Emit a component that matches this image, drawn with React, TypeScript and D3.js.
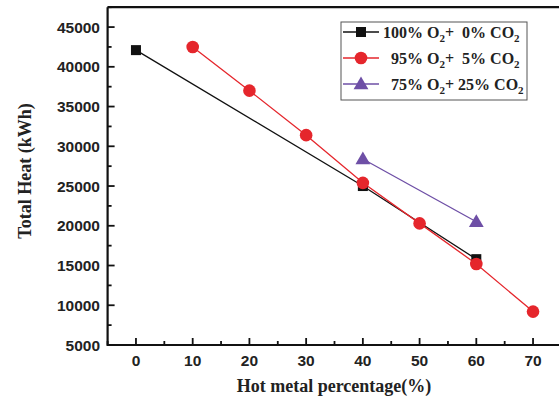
import React from 'react';
import * as d3 from 'd3';

// hot metal percentage (%)
const hotMetal100 = [0, 40, 60];
const heat100 = [42100, 25000, 15800];

const hotMetal95 = [10, 20, 30, 40, 50, 60, 70];
const heat95 = [42500, 37000, 31400, 25400, 20300, 15200, 9200];

const hotMetal75 = [40, 60];
const heat75 = [28400, 20500];

const xTicks = [0, 10, 20, 30, 40, 50, 60, 70];
const yTicks = [5000, 10000, 15000, 20000, 25000, 30000, 35000, 40000, 45000];

const W = 559;
const H = 400;

const x = d3.scaleLinear().domain([-5, 75]).range([107.6, 561.4]);
const y = d3.scaleLinear().domain([5000, 47500]).range([345, 7.2]);

const NB = '\u00a0';
const series = [
  { name: ['100% O', `+${NB}${NB}0% CO`], xs: hotMetal100, ys: heat100, color: '#111111', shape: 'square' },
  { name: [`${NB}${NB}95% O`, `+${NB}${NB}5% CO`], xs: hotMetal95, ys: heat95, color: '#e5262c', shape: 'circle' },
  { name: [`${NB}${NB}75% O`, `+${NB}25% CO`], xs: hotMetal75, ys: heat75, color: '#6e4fa6', shape: 'triangle' },
];

const line = d3.line<[number, number]>().x(d => x(d[0])).y(d => y(d[1]));

function Marker({ shape, cx, cy, color }: { shape: string; cx: number; cy: number; color: string }) {
  if (shape === 'square') return <rect x={cx - 5} y={cy - 5} width={10} height={10} fill={color} />;
  if (shape === 'circle') return <circle cx={cx} cy={cy} r={6.3} fill={color} />;
  const tri = d3.symbol().type(d3.symbolTriangle).size(95)();
  return <path d={tri || ''} transform={`translate(${cx},${cy + 1})`} fill={color} />;
}

export default function App() {
  const minorX = d3.range(-5, 76, 5).filter(v => v % 10 !== 0);
  const minorY = d3.range(7500, 47501, 5000);
  const tickFont = { fontFamily: 'Liberation Sans, Arial, sans-serif', fontWeight: 'bold' as const, fontSize: 15.5, fill: '#222' };
  const serif = 'Liberation Serif, Times New Roman, serif';

  return (
    <svg width={W} height={H} style={{ position: 'absolute', left: 0, top: 0, background: '#fff' }}>
      {/* data lines */}
      {series.map(s => (
        <path key={s.color} d={line(s.xs.map((v, i) => [v, s.ys[i]] as [number, number])) || ''}
          fill="none" stroke={s.color} strokeWidth={1.3} />
      ))}
      {series.map(s => s.xs.map((v, i) => (
        <Marker key={s.color + i} shape={s.shape} cx={x(v)} cy={y(s.ys[i])} color={s.color} />
      )))}

      {/* frame */}
      <line x1={x(-5)} x2={W} y1={y(47500)} y2={y(47500)} stroke="#111" strokeWidth={2.2} />
      <line x1={x(-5)} x2={x(-5)} y1={y(47500)} y2={y(5000) + 1} stroke="#111" strokeWidth={2.2} />
      <line x1={x(-5)} x2={W} y1={y(5000)} y2={y(5000)} stroke="#111" strokeWidth={2.2} />

      {/* x ticks */}
      {xTicks.map(t => (
        <g key={'x' + t}>
          <line x1={x(t)} x2={x(t)} y1={y(5000)} y2={y(5000) - 7} stroke="#111" strokeWidth={1.8} />
          <text x={x(t)} y={366} textAnchor="middle" {...tickFont}>{t}</text>
        </g>
      ))}
      {minorX.map(t => (
        <line key={'mx' + t} x1={x(t)} x2={x(t)} y1={y(5000)} y2={y(5000) - 4} stroke="#111" strokeWidth={1.8} />
      ))}

      {/* y ticks */}
      {yTicks.map(t => (
        <g key={'y' + t}>
          <line x1={x(-5)} x2={x(-5) + 7} y1={y(t)} y2={y(t)} stroke="#111" strokeWidth={1.8} />
          <text x={100} y={y(t) + 5.5} textAnchor="end" {...tickFont}>{t}</text>
        </g>
      ))}
      {minorY.map(t => (
        <line key={'my' + t} x1={x(-5)} x2={x(-5) + 4} y1={y(t)} y2={y(t)} stroke="#111" strokeWidth={1.8} />
      ))}

      {/* axis titles */}
      <text x={334} y={392} textAnchor="middle" fontFamily={serif} fontWeight="bold" fontSize={18} fill="#222">
        Hot metal percentage(%)
      </text>
      <text transform="translate(31,171) rotate(-90)" textAnchor="middle" fontFamily={serif} fontWeight="bold" fontSize={18} fill="#222">
        Total Heat (kWh)
      </text>

      {/* legend */}
      <rect x={341} y={22} width={186} height={78} fill="#fff" stroke="#555" strokeWidth={1} />
      {series.map((s, i) => {
        const ly = 32 + i * 26;
        return (
          <g key={'lg' + i}>
            <line x1={343} x2={379} y1={ly} y2={ly} stroke={s.color} strokeWidth={1.3} />
            <Marker shape={s.shape} cx={361} cy={ly} color={s.color} />
            <text x={383} y={ly + 5.5} fontFamily={serif} fontWeight="bold" fontSize={16} fill="#222">
              {s.name[0]}
              <tspan dy={4} fontSize={11}>2</tspan>
              <tspan dy={-4}>{s.name[1]}</tspan>
              <tspan dy={4} fontSize={11}>2</tspan>
            </text>
          </g>
        );
      })}
    </svg>
  );
}
